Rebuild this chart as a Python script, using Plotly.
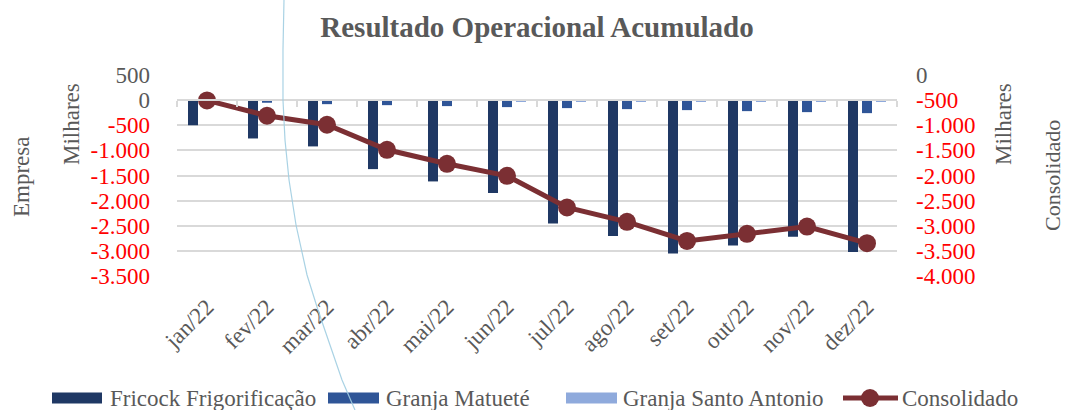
import plotly.graph_objects as go

# ---------------- data ----------------
months = ["jan/22", "fev/22", "mar/22", "abr/22", "mai/22", "jun/22",
          "jul/22", "ago/22", "set/22", "out/22", "nov/22", "dez/22"]
fricock = [-500, -763, -921, -1373, -1618, -1850, -2454, -2706, -3051, -2891, -2718, -3024]
matuete = [-25, -52, -80, -100, -119, -139, -159, -179, -199, -219, -239, -259]
santo_antonio = [-5, -8, -10, -12, -15, -18, -22, -25, -28, -30, -33, -35]
consolidado = [-505, -811, -990, -1488, -1767, -2006, -2637, -2922, -3301, -3161, -3016, -3347]

left_ticks = [500, 0, -500, -1000, -1500, -2000, -2500, -3000, -3500]
right_ticks = [0, -500, -1000, -1500, -2000, -2500, -3000, -3500, -4000]

series_names = ["Fricock Frigorificação", "Granja Matueté", "Granja Santo Antonio", "Consolidado"]
title_text = "Resultado Operacional Acumulado"

# ---------------- style ----------------
FONT = "Liberation Serif"
GREY = "#595959"
RED = "#FF0000"
GRID = "#D9D9D9"
C_FRI = "#1F3864"
C_MAT = "#2F5597"
C_SA = "#8FAADC"
C_CON = "#7B2F33"
FS = 23

W, H = 1065, 410
L, R, T, B = 177, 897, 75, 276  # plot area in pixels


def fmt(v):
    s = f"{abs(v):,}".replace(",", ".")
    if v < 0:
        return f'<span style="color:{RED}">-{s}</span>'
    return s


def px(x):
    return (x - L) / (R - L)


def py(y):
    return (B - y) / (B - T)


fig = go.Figure()
for name, vals, col in [(series_names[0], fricock, C_FRI),
                        (series_names[1], matuete, C_MAT),
                        (series_names[2], santo_antonio, C_SA)]:
    fig.add_trace(go.Bar(x=months, y=vals, name=name, marker_color=col,
                         marker_line_width=0, showlegend=False))

fig.add_trace(go.Scatter(x=months, y=consolidado, name=series_names[3], yaxis="y2",
                         mode="lines+markers", line=dict(color=C_CON, width=5),
                         marker=dict(color=C_CON, size=18), showlegend=False))

# invisible helper trace for the category axis drawn at zero
fig.add_trace(go.Scatter(x=months, y=[None] * len(months), xaxis="x2", mode="markers",
                         marker=dict(opacity=0), hoverinfo="skip", showlegend=False))

zero_pos = (0 - left_ticks[-1]) / (left_ticks[0] - left_ticks[-1])

fig.update_layout(
    width=W, height=H,
    margin=dict(l=L, r=W - R, t=T, b=H - B, pad=0),
    plot_bgcolor="white", paper_bgcolor="white",
    font=dict(family=FONT, color=GREY, size=FS),
    barmode="group", bargap=0.30, bargroupgap=0.286,
    title=dict(text=f"<b>{title_text}</b>", x=0.5, xref="paper", xanchor="center",
               y=1 - 27 / H, yref="container", yanchor="middle",
               font=dict(family=FONT, size=29, color=GREY)),
    xaxis=dict(type="category", categoryorder="array", categoryarray=months,
               range=[-0.5, len(months) - 0.5],
               showgrid=False, showline=False, ticks="", tickangle=-45,
               tickfont=dict(family=FONT, size=FS, color=GREY), ticklabelstandoff=12),
    xaxis2=dict(type="category", categoryorder="array", categoryarray=months,
                range=[-0.5, len(months) - 0.5], overlaying="x", anchor="free",
                position=zero_pos, side="bottom", showgrid=False,
                showline=True, linecolor=GRID, linewidth=2,
                ticks="outside", tickson="boundaries", ticklen=6, tickcolor=GRID,
                tickwidth=2, showticklabels=False),
    yaxis=dict(range=[left_ticks[-1], left_ticks[0]], tickvals=left_ticks,
               ticktext=[fmt(v) for v in left_ticks], showgrid=True, gridcolor=GRID,
               gridwidth=2, zeroline=False, showline=False, ticks="",
               tickfont=dict(family=FONT, size=FS, color=GREY), ticklabelstandoff=26),
    yaxis2=dict(range=[right_ticks[-1], right_ticks[0]], tickvals=right_ticks,
                ticktext=[fmt(v) for v in right_ticks], overlaying="y", side="right",
                showgrid=False, zeroline=False, showline=False, ticks="",
                tickfont=dict(family=FONT, size=FS, color=GREY), ticklabelstandoff=18),
)

annotations = []
shapes = []

# axis titles
for text, xpix, ypix, fs in [("Empresa", 21, 177, FS), ("Milhares", 71, 124, FS),
                             ("Milhares", 1003, 124, FS), ("Consolidado", 1052, 176, 22)]:
    annotations.append(dict(text=text, xref="paper", yref="paper", x=px(xpix), y=py(ypix),
                            xanchor="center", yanchor="middle", textangle=-90,
                            showarrow=False, font=dict(family=FONT, size=fs, color=GREY)))

# custom legend
legend_y = 398
for name, col, x0, x1, tx in [(series_names[0], C_FRI, 52, 102, 108),
                              (series_names[1], C_MAT, 328, 379, 384),
                              (series_names[2], C_SA, 566, 617, 621)]:
    shapes.append(dict(type="rect", xref="paper", yref="paper", x0=px(x0), x1=px(x1),
                       y0=py(legend_y + 5.5), y1=py(legend_y - 5.5),
                       fillcolor=col, line=dict(width=0)))
    annotations.append(dict(text=name, xref="paper", yref="paper", x=px(tx), y=py(legend_y),
                            xanchor="left", yanchor="middle", showarrow=False,
                            font=dict(family=FONT, size=FS, color=GREY)))
shapes.append(dict(type="line", xref="paper", yref="paper", x0=px(843), x1=px(898),
                   y0=py(legend_y), y1=py(legend_y), line=dict(color=C_CON, width=5)))
shapes.append(dict(type="circle", xref="paper", yref="paper", x0=px(861), x1=px(879),
                   y0=py(legend_y + 9), y1=py(legend_y - 9),
                   fillcolor=C_CON, line=dict(width=0)))
annotations.append(dict(text=series_names[3], xref="paper", yref="paper", x=px(900),
                        y=py(legend_y), xanchor="left", yanchor="middle", showarrow=False,
                        font=dict(family=FONT, size=FS, color=GREY)))

# thin decorative light-blue curve crossing the picture
curve_pts = [(284, 0), (283, 50), (283, 100), (285, 140), (289, 180), (296, 225),
             (307, 275), (318, 310), (330, 345), (342, 380), (355, 410)]
path = "M " + " L ".join(f"{px(x):.4f},{py(y):.4f}" for x, y in curve_pts)
shapes.append(dict(type="path", xref="paper", yref="paper", path=path,
                   line=dict(color="rgba(160,205,225,0.9)", width=1.2), layer="above"))

fig.update_layout(annotations=annotations, shapes=shapes)

fig.write_html("out.html", config={"displayModeBar": False},
               post_script="document.body.style.margin='0';document.body.style.overflow='hidden';")
